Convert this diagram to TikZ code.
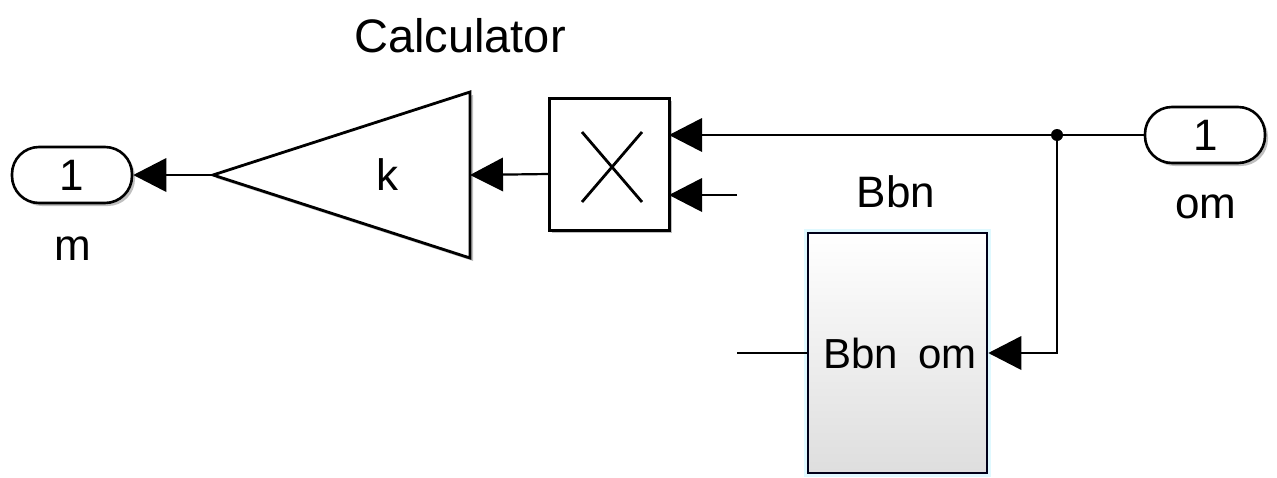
\documentclass[tikz,border=0pt]{standalone}
\usepackage{fontspec}
\setmainfont{Liberation Sans}
\usetikzlibrary{arrows.meta,shadows}
\begin{document}
\begin{tikzpicture}[x=1pt,y=-1pt,
  lbl/.style={font=\fontsize{44}{50}\selectfont, inner sep=0pt, anchor=base},
  sig/.style={line width=2.2pt, draw=black},
  tipped/.style={sig, -{Triangle[length=33pt,width=34pt,line width=0pt]}},
  blockshadow/.style={drop shadow={shadow xshift=3pt, shadow yshift=-3pt, fill=black, opacity=0.25}},
  portpill/.style={draw=black, line width=2.6pt, fill=white, rounded corners=27pt,
    minimum width=120pt, minimum height=56pt, inner sep=0pt, blockshadow},
  blockbox/.style={draw=black, line width=3pt, fill=white, inner sep=0pt, blockshadow}
]
\useasboundingbox (0,0) rectangle (1277,477);

% outport m
\node[portpill] (outm) at (72,175) {};
\node[lbl] (outmnum) at (72,190) {1};
\node[lbl] (outmname) at (73,260) {m};

% gain block
\coordinate (gainOut) at (213,175);
\coordinate (gainIn) at (470,175);
\draw[line width=2.8pt, draw=black, fill=white, line join=miter, blockshadow]
  (gainOut) -- (470,92) -- (470,258) -- cycle;
\node[lbl] (gaink) at (387,190) {k};
\node[lbl, font=\fontsize{47}{52}\selectfont] (gaintitle) at (460,52) {Calculator};

% product block
\node[blockbox, minimum width=120pt, minimum height=132pt] (prod) at (609,164) {};
\draw[line width=2.8pt] (582,132) -- (642,202) (582,202) -- (642,132);
\coordinate (prodOut) at (549,174);
\coordinate (prodInA) at (669,135);
\coordinate (prodInB) at (669,195);
\coordinate (prodFree) at (737,195);

% inport om
\node[portpill] (inom) at (1205,135) {};
\node[lbl] (inomnum) at (1206,150) {1};
\node[lbl] (inomname) at (1206,218) {om};
\coordinate (branch) at (1057,135);
\coordinate (bend) at (1057,353);

% Bbn subsystem
\fill[blue!20!cyan!12!white] (804,229) rectangle (991,477);
\shade[top color=white, bottom color=black!13] (808,233) rectangle (987,473);
\node[draw=black!90!blue, line width=2.6pt, minimum width=179pt, minimum height=240pt, inner sep=0pt]
  (bbn) at (897.5,353) {};
\node[lbl] (bbntitle) at (896,207) {Bbn};
\node[lbl, anchor=base west, font=\fontsize{42}{48}\selectfont] (bbnin) at (823,368) {Bbn};
\node[lbl, anchor=base east, font=\fontsize{42}{48}\selectfont] (bbnout) at (977,368) {om};
\coordinate (bbnFree) at (737,353);

% signal lines
\draw[tipped] (gainOut) -- (outm.east);
\draw[tipped] (prodOut) -- (gainIn);
\draw[tipped] (inom.west) -- (prodInA);
\draw[tipped] (prodFree) -- (prodInB);
\draw[tipped] (branch) -- (bend) -- (bbn.east);
\draw[sig] (bbnFree) -- (bbn.west);
\fill (branch) circle (6pt);
\end{tikzpicture}
\end{document}
